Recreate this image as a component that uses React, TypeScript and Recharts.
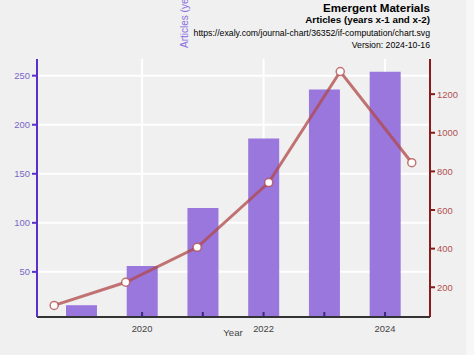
import React from "react"
import { Bar, CartesianGrid, ComposedChart, Line, XAxis, YAxis } from "recharts"

const years = [2019, 2020, 2021, 2022, 2023, 2024]
const articles = [16, 56, 115, 186, 236, 254]
const citations = [106, 226, 407, 742, 1317, 845]
const yearTicks = [2020, 2021, 2022, 2023, 2024]
const yearLabels = [2020, 2022, 2024]
const leftTicks = [50, 100, 150, 200, 250]
const rightTicks = [200, 300, 400, 500, 600, 700, 800, 900, 1000, 1100, 1200]
const rightLabels = [200, 400, 600, 800, 1000, 1200]

const font = "'Liberation Sans', Arial, sans-serif"

const data = years.map((year, i) => ({
  year,
  idx: i,
  articles: articles[i],
  citations: citations[i],
}))

function YearTick(props: any) {
  const { x, y, payload } = props
  const axisY = y - 8
  return (
    <g>
      <line x1={x} x2={x} y1={axisY} y2={axisY - 5} stroke="#3b2a7a" strokeWidth={2} />
      {yearLabels.includes(payload.value) && (
        <text x={x} y={axisY + 15} textAnchor="middle" fill="#444" fontSize={9.4} fontFamily={font}>
          {payload.value}
        </text>
      )}
    </g>
  )
}

function RightTick(props: any) {
  const { x, y, payload } = props
  if (!rightLabels.includes(payload.value)) return <g />
  return (
    <text x={x} y={y + 3.5} textAnchor="start" fill="#b05050" fontSize={9.4} fontFamily={font}>
      {payload.value}
    </text>
  )
}

export default function App() {
  return (
    <div
      style={{
        position: "absolute",
        left: 0,
        top: 0,
        width: 474,
        height: 355,
        background: "#f7f7f7",
        overflow: "hidden",
      }}
    >
      <div style={{ position: "absolute", left: 0, top: 0, width: 466, height: 355, background: "#f0f0f0" }} />
      <div style={{ position: "absolute", left: 0, top: 0 }}>
        <ComposedChart width={474} height={355} data={data} margin={{ top: 59, right: 0, bottom: 0, left: 0 }}>
          <CartesianGrid
            xAxisId="year"
            yAxisId="left"
            stroke="#ffffff"
            strokeWidth={2}
            horizontalValues={leftTicks}
            verticalValues={yearLabels}
          />
          <XAxis
            xAxisId="year"
            dataKey="year"
            type="number"
            domain={[2018.27, 2024.74]}
            ticks={yearTicks}
            tick={<YearTick />}
            tickLine={false}
            tickSize={0}
            tickMargin={8}
            height={38}
            axisLine={{ stroke: "#333", strokeWidth: 2 }}
            allowDataOverflow
            label={{
              content: () => (
                <text x={233} y={336} textAnchor="middle" fill="#444" fontSize={9.6} fontFamily={font}>
                  Year
                </text>
              ),
            }}
          />
          <XAxis
            xAxisId="idx"
            dataKey="idx"
            type="number"
            orientation="top"
            height={0}
            domain={[-0.24, 5.255]}
            hide
            allowDataOverflow
          />
          <YAxis
            yAxisId="left"
            orientation="left"
            width={37}
            domain={[4, 267]}
            ticks={leftTicks}
            allowDataOverflow
            axisLine={{ stroke: "#5a2fd0", strokeWidth: 2 }}
            tickLine={{ stroke: "#5a2fd0", strokeWidth: 2 }}
            tickSize={5}
            tickMargin={2}
            tick={{ fill: "#7a66c8", fontSize: 9.4, fontFamily: font }}
            label={{
              content: () => (
                <text
                  x={188}
                  y={48}
                  transform="rotate(-90 188 48)"
                  fill="#8a6ee0"
                  fontSize={10}
                  fontFamily={font}
                >
                  Articles (years x-1 and x-2)
                </text>
              ),
            }}
          />
          <YAxis
            yAxisId="right"
            orientation="right"
            width={44}
            domain={[46, 1382]}
            ticks={rightTicks}
            allowDataOverflow
            axisLine={{ stroke: "#8b1a1a", strokeWidth: 2 }}
            tickLine={{ stroke: "#8b1a1a", strokeWidth: 2 }}
            tickSize={5}
            tickMargin={2}
            tick={<RightTick />}
          />
          <Bar
            xAxisId="year"
            yAxisId="left"
            dataKey="articles"
            barSize={31}
            fill="#9370db"
            fillOpacity={0.95}
            isAnimationActive={false}
          />
          <Line
            xAxisId="idx"
            yAxisId="right"
            dataKey="citations"
            type="linear"
            stroke="#b04848"
            strokeOpacity={0.75}
            strokeWidth={3}
            dot={{ r: 4, fill: "#ffffff", stroke: "#b04848", strokeWidth: 1.5, fillOpacity: 1 }}
            activeDot={false}
            isAnimationActive={false}
          />
        </ComposedChart>
      </div>
      <svg width={474} height={60} style={{ position: "absolute", left: 0, top: 0 }}>
        <g fontFamily={font} textAnchor="end" fill="#000">
          <text x={430} y={11.7} fontSize={11.6} fontWeight="bold">
            Emergent Materials
          </text>
          <text x={430} y={23.3} fontSize={9.8} fontWeight="bold">
            Articles (years x-1 and x-2)
          </text>
          <text x={430} y={36} fontSize={8.7}>
            https://exaly.com/journal-chart/36352/if-computation/chart.svg
          </text>
          <text x={430} y={47.5} fontSize={8.7}>
            Version: 2024-10-16
          </text>
        </g>
      </svg>
    </div>
  )
}
